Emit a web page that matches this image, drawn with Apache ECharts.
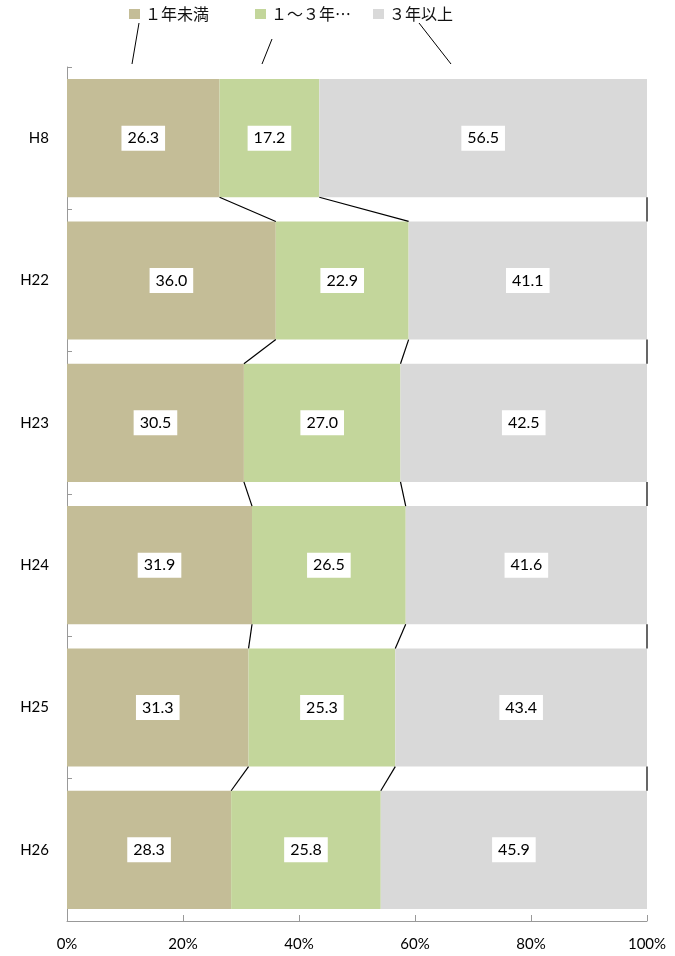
<!DOCTYPE html>
<html><head><meta charset="utf-8">
<script src="https://cdn.jsdelivr.net/npm/echarts@6/dist/echarts.min.js"></script>
<style>html,body{margin:0;padding:0;background:#fff}#c{width:675px;height:956px}</style>
</head><body><div id="c"></div>
<script>
const categories = ['H8','H22','H23','H24','H25','H26'];
const seriesNames = ['１年未満','１～３年…','３年以上'];
const lessThan1 = [26.3, 36.0, 30.5, 31.9, 31.3, 28.3];
const oneToThree = [17.2, 22.9, 27.0, 26.5, 25.3, 25.8];
const over3 = [56.5, 41.1, 42.5, 41.6, 43.4, 45.9];
const xTicks = [0, 20, 40, 60, 80, 100];

const colors = ['#C4BD97', '#C3D69B', '#D9D9D9'];
const barRatio = 0.83;
const numFont = 'Lato';

// series-line segments between consecutive bars (cumulative boundaries)
const seriesLineData = [];
for (let i = 0; i < categories.length - 1; i++) {
  const c1a = lessThan1[i], c1b = lessThan1[i+1];
  const c2a = lessThan1[i] + oneToThree[i], c2b = lessThan1[i+1] + oneToThree[i+1];
  seriesLineData.push([c1a, c1b, i]);
  seriesLineData.push([c2a, c2b, i]);
  seriesLineData.push([xTicks[xTicks.length-1], xTicks[xTicks.length-1], i]);
}

const chart = echarts.init(document.getElementById('c'));
const labelCfg = {
  show: true, position: 'inside', color: '#000', fontFamily: numFont, fontSize: 16,
  backgroundColor: '#fff', padding: [5, 6, 4, 6],
  formatter: p => p.value.toFixed(1)
};
const mkBar = (name, data, idx) => ({
  name, type: 'bar', stack: 'a', data, barCategoryGap: '17%',
  itemStyle: { color: colors[idx] }, label: labelCfg, z: 2
});
const legendBase = {
  top: 6, padding: 0, icon: 'rect', itemWidth: 11, itemHeight: 10, itemGap: 5, selectedMode: false,
  textStyle: { fontFamily: 'Noto Sans CJK JP', fontSize: 16, color: '#111' }
};
chart.setOption({
  animation: false,
  legend: [
    Object.assign({ left: 129, data: [seriesNames[0]] }, legendBase),
    Object.assign({ left: 255, data: [seriesNames[1]] }, legendBase),
    Object.assign({ left: 373, data: [seriesNames[2]] }, legendBase)
  ],
  grid: { left: 67, right: 28, top: 67, bottom: 35, containLabel: false },
  xAxis: {
    type: 'value', min: 0, max: 100, interval: 20,
    axisLine: { show: true, lineStyle: { color: '#999', width: 1 } },
    axisTick: { show: true, inside: true, length: 6, lineStyle: { color: '#999' } },
    splitLine: { show: false },
    axisLabel: { formatter: '{value}%', color: '#000', fontFamily: numFont, fontSize: 15, margin: 16 }
  },
  yAxis: {
    type: 'category', data: categories, inverse: true,
    axisLine: { show: true, lineStyle: { color: '#999', width: 1 } },
    axisTick: { show: true, inside: true, length: 5, lineStyle: { color: '#999' } },
    axisLabel: { color: '#000', fontFamily: numFont, fontSize: 15, margin: 18 }
  },
  graphic: [
    { type: 'line', shape: { x1: 139, y1: 23, x2: 132, y2: 64 }, style: { stroke: '#000', lineWidth: 1 } },
    { type: 'line', shape: { x1: 272, y1: 39, x2: 262, y2: 64 }, style: { stroke: '#000', lineWidth: 1 } },
    { type: 'line', shape: { x1: 419, y1: 23, x2: 451, y2: 64 }, style: { stroke: '#000', lineWidth: 1 } }
  ],
  series: [
    mkBar(seriesNames[0], lessThan1, 0),
    mkBar(seriesNames[1], oneToThree, 1),
    mkBar(seriesNames[2], over3, 2),
    {
      type: 'custom', silent: true, z: 5,
      encode: { x: [0, 1], y: 2 },
      data: seriesLineData,
      renderItem: function (params, api) {
        const i = api.value(2);
        const p1 = api.coord([api.value(0), i]);
        const p2 = api.coord([api.value(1), i + 1]);
        const half = api.size([0, 1])[1] * barRatio / 2;
        return {
          type: 'line',
          shape: { x1: p1[0], y1: p1[1] + half, x2: p2[0], y2: p2[1] - half },
          style: { stroke: '#000', lineWidth: 1.2 }
        };
      }
    }
  ]
});
</script></body></html>
